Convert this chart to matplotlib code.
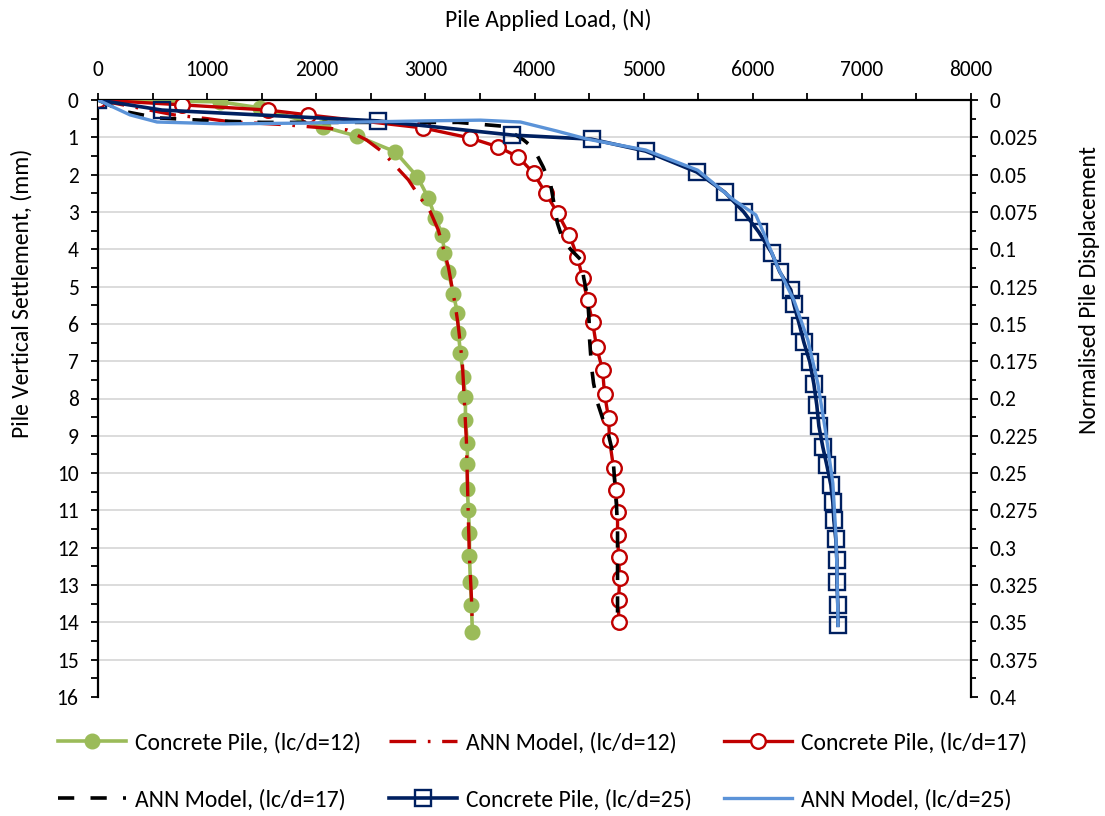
import matplotlib
matplotlib.use("Agg")
import matplotlib.pyplot as plt
from matplotlib import font_manager
from matplotlib.ticker import MultipleLocator, FixedLocator

# ---------------- data ----------------
load_cp12 = [0, 1119, 1486, 2064, 2376, 2725, 2927, 3028, 3092, 3156, 3174, 3211, 3257, 3294,
             3303, 3321, 3349, 3367, 3367, 3385, 3385, 3385, 3394, 3404, 3404, 3413, 3422, 3431]
sett_cp12 = [0, 0.05, 0.21, 0.72, 0.97, 1.39, 2.06, 2.63, 3.16, 3.62, 4.10, 4.61, 5.20, 5.71,
             6.25, 6.78, 7.43, 7.96, 8.58, 9.20, 9.76, 10.43, 10.99, 11.61, 12.23, 12.92, 13.54, 14.26]

load_ann12 = [0, 700, 1000, 1200, 1700, 2280, 2460, 2606, 2844, 2936, 3046, 3119, 3211, 3275,
              3303, 3339, 3358, 3376, 3385, 3394, 3404, 3413, 3422, 3431]
sett_ann12 = [0, 0.40, 0.50, 0.58, 0.66, 0.80, 1.07, 1.39, 2.14, 2.55, 3.00, 3.49, 4.48, 5.52,
              6.09, 7.05, 8.12, 9.14, 10.19, 11.26, 12.25, 12.79, 13.32, 14.13]

load_cp17 = [0, 771, 1560, 1927, 2982, 3413, 3670, 3853, 3991, 4101, 4211, 4320, 4394, 4440,
             4486, 4532, 4569, 4624, 4642, 4679, 4688, 4725, 4743, 4761, 4761, 4771, 4780, 4771, 4771]
sett_cp17 = [0, 0.13, 0.27, 0.40, 0.75, 1.02, 1.26, 1.53, 1.96, 2.49, 3.03, 3.62, 4.21, 4.77,
             5.36, 5.95, 6.62, 7.24, 7.88, 8.53, 9.12, 9.87, 10.46, 11.05, 11.66, 12.25, 12.82, 13.40, 13.99]

load_ann17 = [0, 230, 550, 1000, 1500, 2500, 3300, 3700, 3900, 3990, 4080, 4150, 4180, 4210,
              4260, 4330, 4430, 4450, 4486, 4500, 4505, 4523, 4541, 4578, 4624, 4679, 4716, 4734,
              4752, 4761, 4761, 4761, 4761]
sett_ann17 = [0, 0.30, 0.48, 0.55, 0.60, 0.60, 0.60, 0.70, 1.07, 1.29, 1.80, 2.30, 2.80, 3.30,
              3.75, 4.00, 4.30, 4.75, 5.28, 5.90, 6.43, 7.16, 7.59, 8.12, 8.53, 8.98, 9.44, 10.19,
              10.91, 11.50, 12.50, 13.50, 14.00]

load_cp25 = [0, 587, 2569, 3798, 4523, 5018, 5486, 5743, 5917, 6055, 6174, 6248, 6349, 6376,
             6431, 6468, 6523, 6560, 6587, 6606, 6642, 6679, 6716, 6734, 6743, 6761, 6771, 6771, 6780, 6780]
sett_cp25 = [0, 0.27, 0.56, 0.94, 1.05, 1.37, 1.93, 2.47, 3.00, 3.54, 4.10, 4.61, 5.09, 5.47,
             6.06, 6.49, 7.02, 7.61, 8.18, 8.74, 9.30, 9.79, 10.32, 10.78, 11.26, 11.77, 12.33, 12.92, 13.54, 14.08]

load_ann25 = [0, 294, 541, 1147, 1853, 2982, 3505, 3872, 4202, 4486, 5018, 5495, 5826, 6028,
              6101, 6229, 6376, 6505, 6596, 6670, 6734, 6761, 6771, 6780, 6780]
sett_ann25 = [0, 0.40, 0.59, 0.64, 0.62, 0.56, 0.54, 0.59, 0.83, 1.05, 1.34, 1.88, 2.68, 3.08,
              3.57, 4.48, 5.36, 6.43, 7.59, 8.93, 10.27, 11.61, 12.52, 13.86, 14.08]

labels = ["Concrete Pile, (lc/d=12)", "ANN Model, (lc/d=12)", "Concrete Pile, (lc/d=17)",
          "ANN Model, (lc/d=17)", "Concrete Pile, (lc/d=25)", "ANN Model, (lc/d=25)"]

x_label = "Pile Applied Load, (N)"
y_label = "Pile Vertical Settlement, (mm)"
y2_label = "Normalised Pile Displacement"
y2_ticklabels = ["0", "0.025", "0.05", "0.075", "0.1", "0.125", "0.15", "0.175", "0.2",
                 "0.225", "0.25", "0.275", "0.3", "0.325", "0.35", "0.375", "0.4"]

# ---------------- fonts ----------------
avail = {f.name for f in font_manager.fontManager.ttflist}
main_font = "DejaVu Sans"
for cand in ["Carlito", "Lato", "Open Sans"]:
    if cand in avail:
        main_font = cand
        break
plt.rcParams["font.family"] = [main_font, "DejaVu Sans"]

FS_LAB = 17
FS_TICK = 15.5
FS_LEG = 17

# ---------------- figure ----------------
W, H = 1105, 816
fig = plt.figure(figsize=(W / 100, H / 100), dpi=100)
L, R, T, B = 98, 971, 100, 697
ax = fig.add_axes([L / W, 1 - B / H, (R - L) / W, (B - T) / H])

GREEN = "#9BBB59"
RED = "#C00000"
NAVY = "#002060"
LBLUE = "#5B93D8"

h0, = ax.plot(load_cp12, sett_cp12, color=GREEN, lw=2.6, marker="o", ms=10.5,
              mfc=GREEN, mec=GREEN, zorder=3)
h1, = ax.plot(load_ann12, sett_ann12, color=RED, lw=2.4, linestyle=(0, (8, 3.5, 0.8, 3.5)),
              zorder=4)
h2, = ax.plot(load_cp17, sett_cp17, color=RED, lw=2.4, marker="o", ms=10.5,
              mfc="white", mec=RED, mew=1.7, zorder=5)
h3, = ax.plot(load_ann17, sett_ann17, color="black", lw=2.6, linestyle=(0, (4.5, 4.5)),
              zorder=6)
h4, = ax.plot(load_cp25, sett_cp25, color=NAVY, lw=2.6, marker="s", ms=12,
              mfc="none", mec=NAVY, mew=1.7, zorder=7)
h5, = ax.plot(load_ann25, sett_ann25, color=LBLUE, lw=2.4, zorder=8)

ax.set_xlim(0, 8000)
ax.set_ylim(16, 0)

# top x axis
ax.xaxis.tick_top()
ax.xaxis.set_major_locator(MultipleLocator(1000))
ax.xaxis.set_minor_locator(MultipleLocator(500))
ax.tick_params(axis="x", which="both", direction="out", length=5, width=1.3,
               labelsize=FS_TICK, pad=9.5, colors="black")

ax.yaxis.set_major_locator(MultipleLocator(1))
ax.yaxis.set_minor_locator(MultipleLocator(0.5))
ax.tick_params(axis="y", which="both", direction="out", length=5, width=1.3,
               labelsize=FS_TICK, pad=9)

# horizontal grid (1..15)
for g in range(1, 16):
    ax.axhline(g, color="#D9D9D9", lw=1.3, zorder=0)

for s in ["bottom", "right"]:
    ax.spines[s].set_visible(False)
for s in ["top", "left"]:
    ax.spines[s].set_linewidth(1.6)

# right axis
ax2 = ax.twinx()
ax2.set_ylim(0.4, 0)
ax2.yaxis.set_major_locator(FixedLocator([i * 0.025 for i in range(17)]))
ax2.yaxis.set_minor_locator(FixedLocator([0.0125 + i * 0.025 for i in range(16)]))
ax2.set_yticklabels(y2_ticklabels)
ax2.tick_params(axis="y", which="major", direction="out", length=5, width=1.3,
                labelsize=FS_TICK, pad=8.5)
ax2.tick_params(axis="y", which="minor", direction="out", length=3.5, width=1.3)
for s in ["top", "bottom", "left"]:
    ax2.spines[s].set_visible(False)
ax2.spines["right"].set_linewidth(1.6)

# axis titles
fig.text(548 / W, 1 - 20 / H, x_label, fontsize=FS_LAB, ha="center", va="center")
fig.text(22 / W, 1 - 293 / H, y_label, fontsize=FS_LAB, ha="center", va="center", rotation=90)
fig.text(1089 / W, 1 - 290 / H, y2_label, fontsize=FS_LAB, ha="center", va="center", rotation=90)

# legend: three single-column blocks, filled row-wise
handles = [h0, h1, h2, h3, h4, h5]
col_x = [58, 389, 724]
for c in range(3):
    idx = [c, c + 3]
    fig.legend([handles[i] for i in idx], [labels[i] for i in idx],
               loc="center left", bbox_to_anchor=(col_x[c] / W, 1 - 771 / H),
               frameon=False, fontsize=FS_LEG, handlelength=2.9, handletextpad=0.35,
               labelspacing=1.5, borderpad=0, borderaxespad=0, numpoints=1)

fig.savefig("out.png", dpi=100)
